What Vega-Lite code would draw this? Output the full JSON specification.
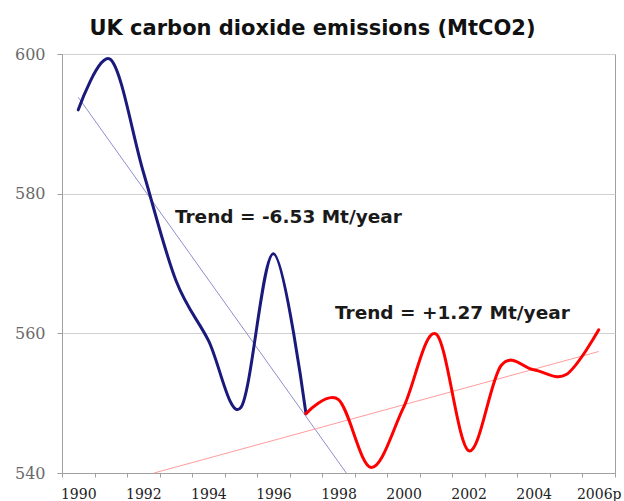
{
  "$schema": "https://vega.github.io/schema/vega-lite/v6.json",
  "width": 553,
  "height": 419,
  "autosize": "none",
  "padding": {"left": 62, "top": 54, "right": 9, "bottom": 28},
  "background": "white",
  "config": {
    "view": {"stroke": "#a0a0a0", "strokeWidth": 1},
    "axis": {"domainColor": "#a0a0a0", "tickColor": "#a0a0a0", "gridColor": "#d0d0d0", "title": null}
  },
  "title": {
    "text": "UK carbon dioxide emissions (MtCO2)",
    "font": "DejaVu Sans",
    "fontSize": 21,
    "fontWeight": "bold",
    "color": "#111111",
    "anchor": "middle",
    "dx": -26,
    "offset": 7
  },
  "datasets": {
    "emissions": [
      {"year": 1990, "value": 592.0, "series": "blue"},
      {"year": 1991, "value": 599.2, "series": "blue"},
      {"year": 1992, "value": 583.1, "series": "blue"},
      {"year": 1993, "value": 567.6, "series": "blue"},
      {"year": 1994, "value": 559.0, "series": "blue"},
      {"year": 1995, "value": 549.4, "series": "blue"},
      {"year": 1996, "value": 571.4, "series": "blue"},
      {"year": 1997, "value": 548.5, "series": "blue"},
      {"year": 1997, "value": 548.5, "series": "red"},
      {"year": 1998, "value": 550.5, "series": "red"},
      {"year": 1999, "value": 540.8, "series": "red"},
      {"year": 2000, "value": 549.4, "series": "red"},
      {"year": 2001, "value": 559.9, "series": "red"},
      {"year": 2002, "value": 543.2, "series": "red"},
      {"year": 2003, "value": 555.4, "series": "red"},
      {"year": 2004, "value": 554.8, "series": "red"},
      {"year": 2005, "value": 554.1, "series": "red"},
      {"year": 2006, "value": 560.5, "series": "red"}
    ],
    "trends": [
      {"year": 1990, "value": 593.8, "series": "blueTrend"},
      {"year": 1998.24, "value": 540, "series": "blueTrend"},
      {"year": 1992.33, "value": 540, "series": "redTrend"},
      {"year": 2006, "value": 557.4, "series": "redTrend"}
    ],
    "notes": [
      {"year": 1992.97, "value": 576.6, "label": "Trend = -6.53 Mt/year"},
      {"year": 1997.89, "value": 562.9, "label": "Trend = +1.27 Mt/year"}
    ]
  },
  "resolve": {"axis": {"x": "independent", "y": "independent"}},
  "layer": [
    {
      "data": {"name": "trends"},
      "mark": {"type": "line", "strokeWidth": 1},
      "encoding": {
        "x": {
          "field": "year", "type": "quantitative",
          "scale": {"domain": [1989.5, 2006.5], "nice": false, "zero": false},
          "axis": {
            "orient": "bottom",
            "values": [1989.5, 1990.5, 1991.5, 1992.5, 1993.5, 1994.5, 1995.5, 1996.5, 1997.5, 1998.5, 1999.5, 2000.5, 2001.5, 2002.5, 2003.5, 2004.5, 2005.5, 2006.5],
            "labels": false, "grid": false, "tickSize": 4, "title": null
          }
        },
        "y": {
          "field": "value", "type": "quantitative",
          "scale": {"domain": [540, 600], "nice": false, "zero": false},
          "axis": {
            "values": [540, 560, 580, 600],
            "grid": true, "tickSize": 5, "labelPadding": 12,
            "labelFont": "DejaVu Serif", "labelFontSize": 16, "labelColor": "#6a6a6a",
            "title": null
          }
        },
        "color": {
          "field": "series", "type": "nominal",
          "scale": {"domain": ["blue", "red", "blueTrend", "redTrend"], "range": ["#1a1a7c", "#ff0000", "#8f8fcc", "#ff9c9c"]},
          "legend": null
        }
      }
    },
    {
      "data": {"name": "emissions"},
      "mark": {"type": "line", "strokeWidth": 3, "interpolate": "cardinal", "tension": 0, "strokeCap": "round", "strokeJoin": "round"},
      "encoding": {
        "x": {
          "field": "year", "type": "quantitative",
          "axis": {
            "orient": "bottom",
            "values": [1990, 1992, 1994, 1996, 1998, 2000, 2002, 2004, 2006],
            "ticks": false, "tickSize": 0, "domain": false, "grid": false,
            "labelPadding": 14, "labelFont": "DejaVu Serif", "labelFontSize": 14, "labelColor": "#222222",
            "labelOverlap": false, "labelBound": false, "labelFlush": false,
            "labelExpr": "datum.value == 2006 ? '2006p' : datum.value",
            "title": null
          }
        },
        "y": {"field": "value", "type": "quantitative", "axis": null},
        "color": {
          "field": "series", "type": "nominal",
          "scale": {"domain": ["blue", "red", "blueTrend", "redTrend"], "range": ["#1a1a7c", "#ff0000", "#8f8fcc", "#ff9c9c"]},
          "legend": null
        }
      }
    },
    {
      "data": {"name": "notes"},
      "mark": {"type": "text", "align": "left", "baseline": "middle", "font": "DejaVu Sans", "fontSize": 18.5, "fontWeight": "bold", "color": "#1a1a1a"},
      "encoding": {
        "x": {"field": "year", "type": "quantitative", "axis": null},
        "y": {"field": "value", "type": "quantitative", "axis": null},
        "text": {"field": "label"}
      }
    }
  ]
}
